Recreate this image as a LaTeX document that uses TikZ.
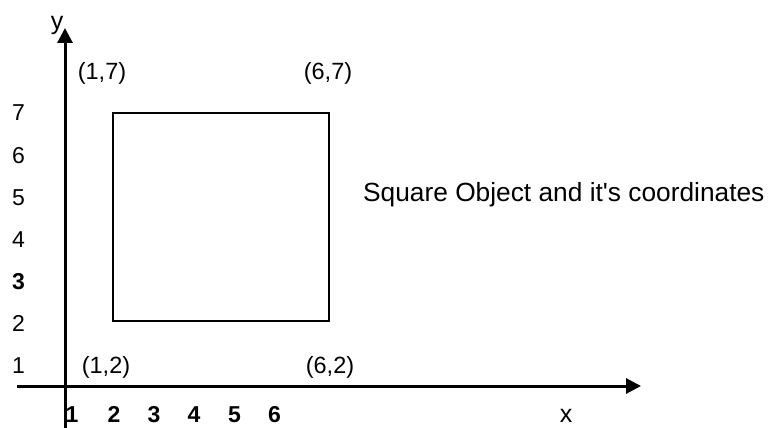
\documentclass[tikz,border=0pt]{standalone}
\usepackage{fontspec}
\setmainfont{Liberation Sans}
\usepackage{tikz}
\usetikzlibrary{arrows.meta,positioning}

\begin{document}
\begin{tikzpicture}[
  x=1pt, y=-1pt,
  axis/.style={-{Triangle[length=15pt,width=15pt]}, line width=3pt},
  square/.style={draw, line width=2pt},
  tick/.style={anchor=base, font=\fontsize{23}{27}\selectfont, inner sep=0pt},
  btick/.style={anchor=base, font=\fontsize{23}{27}\selectfont\bfseries, inner sep=0pt},
  corner/.style={anchor=base, font=\fontsize{23.5}{28}\selectfont, inner sep=0pt},
  caption/.style={anchor=base west, font=\fontsize{26.3}{31}\selectfont, inner sep=0pt}
]
\useasboundingbox (0,0) rectangle (769,428);
% axes
\coordinate (xstart) at (17,386);
\coordinate (xend) at (641,386);
\coordinate (ystart) at (65,428);
\coordinate (yend) at (65,28);
\draw[axis] (xstart) -- (xend);
\draw[axis] (ystart) -- (yend);
\node[tick, font=\fontsize{25}{30}\selectfont] (ylabel) at (57,30) {y};
\node[tick, font=\fontsize{25}{30}\selectfont] (xlabel) at (566,422) {x};
% the square
\node[square, minimum width=216pt, minimum height=208pt, inner sep=0pt] (sq) at (221,217) {};
\node[corner] (c17) at (102,80) {(1,7)};
\node[corner] (c67) at (328,80) {(6,7)};
\node[corner] (c12) at (106,373) {(1,2)};
\node[corner] (c62) at (330,373) {(6,2)};
% ticks on y
\node[tick] (y7) at (18.5,121) {7};
\node[tick] (y6) at (18.5,163) {6};
\node[tick] (y5) at (18.5,205) {5};
\node[tick] (y4) at (18.5,247) {4};
\node[btick] (y3) at (18.5,289) {3};
\node[tick] (y2) at (18.5,331) {2};
\node[tick] (y1) at (18.5,373) {1};
% ticks on x
\foreach \n/\px in {1/72,2/114,3/154,4/194,5/234.5,6/274.5}
  \node[btick] (x\n) at (\px,422) {\n};
\node[caption] (title) at (363,201) {Square Object and it\textquotesingle s coordinates};
\end{tikzpicture}
\end{document}
